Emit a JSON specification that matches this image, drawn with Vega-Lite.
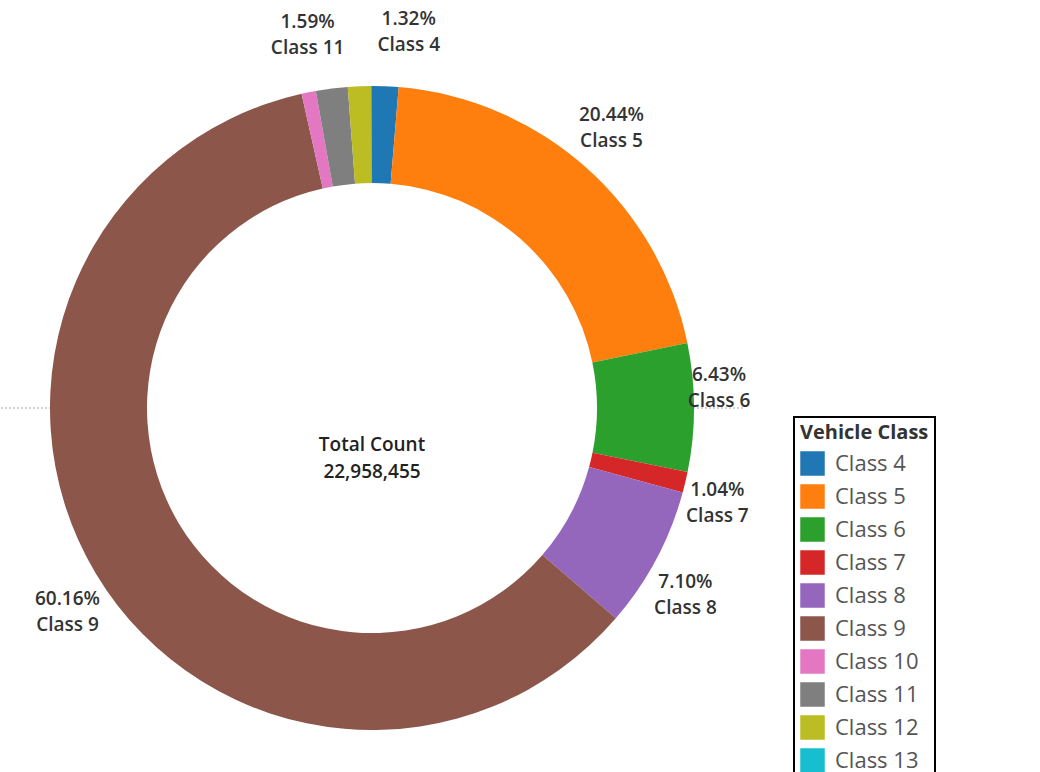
{
  "$schema": "https://vega.github.io/schema/vega-lite/v6.json",
  "width": 742,
  "height": 816,
  "padding": 0,
  "autosize": {"type": "pad"},
  "background": "white",
  "config": {"view": {"stroke": null}, "font": "Open Sans"},
  "data": {
    "values": [
      {"idx": 1, "cls": "Class 4", "pct": 1.32, "label": "1.32%\nClass 4"},
      {"idx": 2, "cls": "Class 5", "pct": 20.44, "label": "20.44%\nClass 5"},
      {"idx": 3, "cls": "Class 6", "pct": 6.43, "label": "6.43%\nClass 6"},
      {"idx": 4, "cls": "Class 7", "pct": 1.04, "label": "1.04%\nClass 7"},
      {"idx": 5, "cls": "Class 8", "pct": 7.10, "label": "7.10%\nClass 8"},
      {"idx": 6, "cls": "Class 9", "pct": 60.16, "label": "60.16%\nClass 9"},
      {"idx": 7, "cls": "Class 10", "pct": 0.72, "label": ""},
      {"idx": 8, "cls": "Class 11", "pct": 1.59, "label": "1.59%\nClass 11"},
      {"idx": 9, "cls": "Class 12", "pct": 1.15, "label": ""},
      {"idx": 10, "cls": "Class 13", "pct": 0.05, "label": ""}
    ]
  },
  "layer": [
    {
      "data": {"values": [{}]},
      "mark": {"type": "rule", "color": "#c8c8c8", "strokeDash": [2, 2], "strokeWidth": 1.5},
      "encoding": {
        "y": {"datum": 0, "type": "quantitative", "scale": {"domain": [-1, 1]}, "axis": null}
      }
    },
    {
      "data": {"values": [{}]},
      "mark": {"type": "arc", "theta": 0, "theta2": 6.2832, "radius": 225, "fill": "white"},
      "encoding": {}
    },
    {
      "mark": {"type": "arc", "radius": 322, "radius2": 225},
      "encoding": {
        "theta": {"field": "pct", "type": "quantitative", "stack": true},
        "order": {"field": "idx", "type": "quantitative"},
        "color": {
          "field": "cls",
          "type": "nominal",
          "scale": {
            "domain": ["Class 4", "Class 5", "Class 6", "Class 7", "Class 8", "Class 9", "Class 10", "Class 11", "Class 12", "Class 13"],
            "range": ["#1f77b4", "#ff7f0e", "#2ca02c", "#d62728", "#9467bd", "#8c564b", "#e377c2", "#7f7f7f", "#bcbd22", "#17becf"]
          },
          "legend": {
            "title": "Vehicle Class",
            "orient": "none",
            "legendX": 793,
            "legendY": 417,
            "strokeColor": "black",
            "padding": 6,
            "titleFontSize": 20,
            "titleFontWeight": "bold",
            "titleColor": "#333333",
            "titlePadding": 8,
            "labelFontSize": 22,
            "labelColor": "#555555",
            "symbolType": "square",
            "symbolSize": 600,
            "symbolStrokeWidth": 0,
            "symbolOpacity": 1,
            "rowPadding": 8,
            "labelOffset": 10,
            "labelLimit": 600,
            "labelExpr": "datum.label + '\u00a0\u00a0\u00a0\u00a0\u00a0\u00a0\u00a0\u00a0\u00a0\u00a0\u00a0\u00a0\u00a0\u00a0\u00a0\u00a0\u00a0\u00a0\u00a0\u00a0\u00a0\u00a0\u00a0\u00a0\u00a0\u00a0\u00a0\u00a0\u00a0\u00a0\u00a0\u00a0\u00a0\u00a0\u00a0\u00a0\u00a0\u00a0\u00a0\u00a0'",
            "encode": {"legend": {"update": {"strokeWidth": {"value": 2}}}}
          }
        }
      }
    },
    {
      "mark": {
        "type": "text",
        "radius": 355,
        "fontSize": 19,
        "fontWeight": 600,
        "lineBreak": "\n",
        "lineHeight": 26,
        "color": "#333333",
        "dx": {"expr": "datum.cls == 'Class 4' ? 22 : datum.cls == 'Class 11' ? -20 : datum.cls == 'Class 6' ? -8 : datum.cls == 'Class 5' ? 4 : 0"},
        "dy": {"expr": "-6 - 28 * cos(PI * (datum.pct_start + datum.pct_end) / 100) + (datum.cls == 'Class 6' ? -26 : 0)"}
      },
      "encoding": {
        "theta": {"field": "pct", "type": "quantitative", "stack": true},
        "order": {"field": "idx", "type": "quantitative"},
        "text": {"field": "label"}
      }
    },
    {
      "data": {"values": [{"t": "Total Count\n22,958,455"}]},
      "mark": {"type": "text", "fontSize": 19, "fontWeight": 600, "lineBreak": "\n", "lineHeight": 27, "dy": 37, "color": "#222222"},
      "encoding": {"text": {"field": "t"}}
    }
  ]
}
